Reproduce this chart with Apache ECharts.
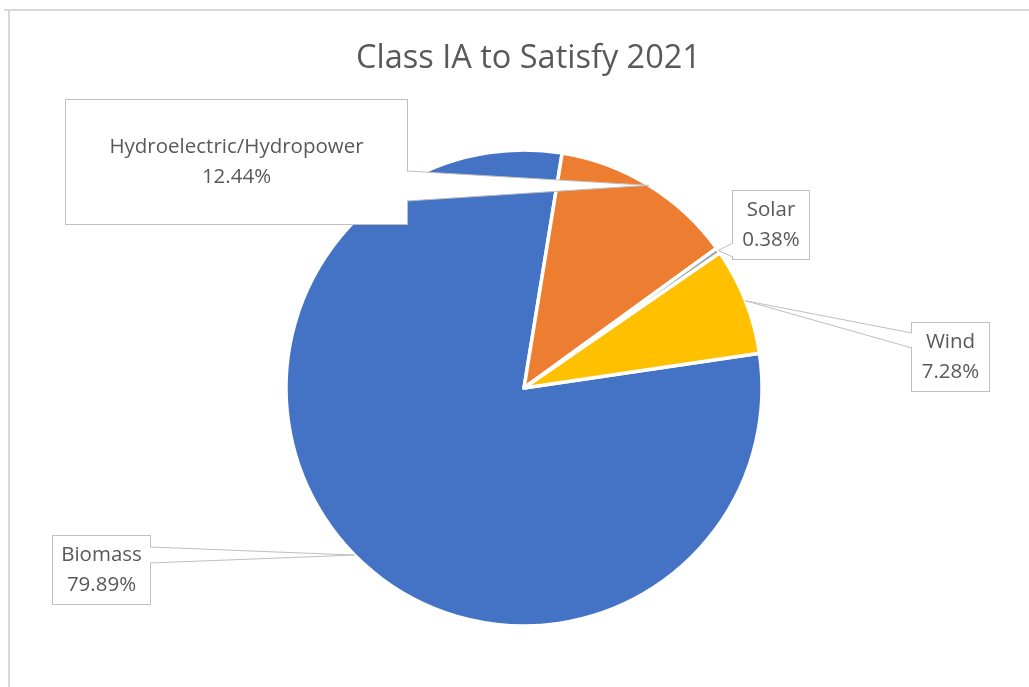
<!DOCTYPE html>
<html><head><meta charset="utf-8">
<script src="https://cdn.jsdelivr.net/npm/echarts@6/dist/echarts.min.js"></script>
<style>html,body{margin:0;padding:0;background:#fff}#main{width:1029px;height:687px}</style>
</head><body><div id="main"></div>
<script>
const titleText = 'Class IA to Satisfy 2021';
const categories = ['Biomass', 'Hydroelectric/Hydropower', 'Solar', 'Wind'];
const shares = [79.89, 12.44, 0.38, 7.28];
const colors = ['#4472C4', '#ED7D31', '#A5A5A5', '#FFC000'];

// callout box layout (centre, width, height) and wedge base — presentation only
const boxes = [
  {cx: 101.5, cy: 569, w: 97, h: 68, side: 'right', y1: 547, y2: 563},
  {cx: 236.5, cy: 161, w: 341, h: 124, side: 'right', y1: 171, y2: 201},
  {cx: 771, cy: 224, w: 76, h: 68, side: 'left', y1: 243, y2: 257},
  {cx: 950.5, cy: 356, w: 77, h: 68, side: 'left', y1: 333, y2: 348}
];
const LH = 30;
const FONT = 'Open Sans';
const LINE = '#BFBFBF';

const data = categories.map((name, i) => {
  const b = boxes[i];
  const pv = (b.h - 2 * LH) / 2;
  return {
    name: name,
    value: shares[i],
    itemStyle: {color: colors[i]},
    label: {width: b.w, padding: [pv, 0, pv, 0]}
  };
});

const frame = [
  {type: 'line', shape: {x1: 4, y1: 10, x2: 1029, y2: 10}, style: {stroke: '#D9D9D9', lineWidth: 2}},
  {type: 'line', shape: {x1: 9, y1: 10, x2: 9, y2: 687}, style: {stroke: '#D9D9D9', lineWidth: 2}}
];

const chart = echarts.init(document.getElementById('main'), null, {renderer: 'canvas'});
chart.setOption({
  backgroundColor: '#fff',
  animation: false,
  title: {
    text: titleText,
    left: 351,
    top: 37,
    textStyle: {fontFamily: FONT, fontSize: 32.5, fontWeight: 'normal', color: '#595959'}
  },
  graphic: frame,
  series: [{
    type: 'pie',
    center: [524, 388],
    radius: 238,
    startAngle: 8.4,
    clockwise: true,
    avoidLabelOverlap: false,
    data: data,
    itemStyle: {borderColor: '#fff', borderWidth: 3.5},
    emphasis: {disabled: true},
    label: {
      show: true,
      position: 'outside',
      formatter: p => p.name + '\n' + p.value.toFixed(2) + '%',
      fontFamily: FONT,
      fontSize: 20.5,
      lineHeight: LH,
      color: '#595959',
      align: 'center',
      backgroundColor: '#fff',
      borderColor: LINE,
      borderWidth: 1
    },
    labelLine: {show: false},
    labelLayout: function (params) {
      const b = boxes[params.dataIndex];
      return {x: b.cx, y: b.cy + 1, align: 'center', verticalAlign: 'middle'};
    }
  }]
});

// callout wedges: tip at the slice's outer edge, mid-angle, taken from the pie's own layout
const pieData = chart.getModel().getSeriesByIndex(0).getData();
const wedges = [];
categories.forEach((name, i) => {
  const lay = pieData.getItemLayout(i);
  const mid = (lay.startAngle + lay.endAngle) / 2;
  const tip = [lay.cx + lay.r * Math.cos(mid), lay.cy + lay.r * Math.sin(mid)];
  const b = boxes[i];
  const ex = b.side === 'right' ? b.cx + b.w / 2 : b.cx - b.w / 2;
  const inset = b.side === 'right' ? -1.5 : 1.5;
  wedges.push({
    type: 'polygon', z: 100, silent: true,
    shape: {points: [[ex + inset, b.y1], tip, [ex + inset, b.y2]]},
    style: {fill: '#fff', stroke: null}
  });
  wedges.push({
    type: 'polyline', z: 101, silent: true,
    shape: {points: [[ex, b.y1], tip, [ex, b.y2]]},
    style: {fill: null, stroke: LINE, lineWidth: 1}
  });
});
chart.setOption({graphic: frame.concat(wedges)});
</script></body></html>
